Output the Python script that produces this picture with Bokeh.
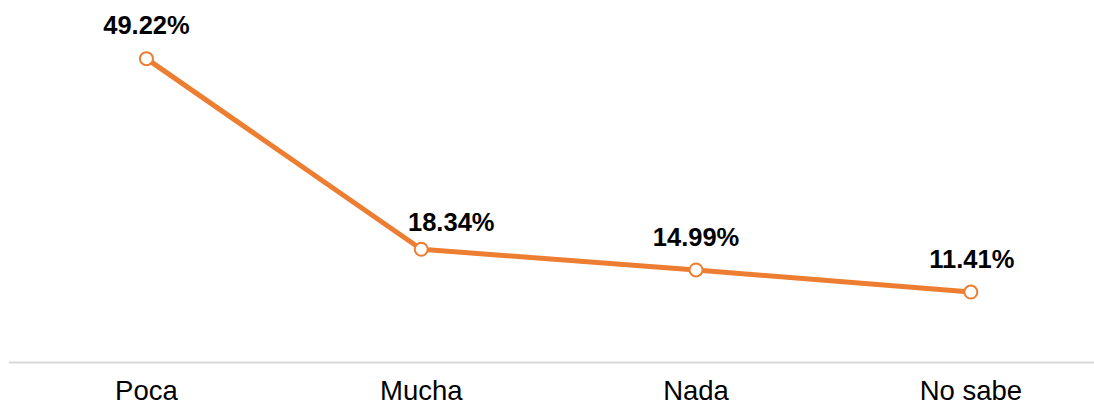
from bokeh.plotting import figure
from bokeh.models import ColumnDataSource, Range1d, FixedTicker, Span
from bokeh.core.properties import value
from bokeh.embed import file_html
from bokeh.resources import INLINE

categories = ["Poca", "Mucha", "Nada", "No sabe"]
percentages = [49.22, 18.34, 14.99, 11.41]

# label placement (style, pixels)
label_dx = [0, 30, 0, 1]
label_dy = [-33.5, -27, -32.5, -33.5]

xs = list(range(len(categories)))
labels = [f"{v:.2f}%" for v in percentages]

src = ColumnDataSource(dict(x=xs, y=percentages, label=labels,
                            dx=label_dx, dy=label_dy))

p = figure(width=1094, height=408, output_backend="svg", toolbar_location=None,
           x_range=Range1d(-0.502, 3.450), y_range=Range1d(-0.975, 57.34),
           y_axis_location=None, min_border=0, min_border_left=8,
           min_border_right=0, min_border_top=8, min_border_bottom=0)
p.outline_line_color = None
p.xgrid.visible = False
p.ygrid.visible = False
p.background_fill_color = "white"
p.border_fill_color = "white"

p.add_layout(Span(location=0, dimension="width", line_color="#d9d9d9",
                  line_width=2))

color = "#ED7D31"
p.line("x", "y", source=src, line_color=color, line_width=5)
p.scatter("x", "y", source=src, size=13, fill_color="white",
          line_color=color, line_width=2)
p.text("x", "y", text="label", source=src, x_offset="dx", y_offset="dy",
       text_align="center", text_baseline="middle",
       text_font=value("Liberation Sans"), text_font_style="bold",
       text_font_size="25.5px", text_color="#000000")

ax = p.xaxis[0]
ax.ticker = FixedTicker(ticks=xs)
ax.major_label_overrides = {i: c for i, c in zip(xs, categories)}
ax.major_tick_line_color = None
ax.minor_tick_line_color = None
ax.axis_line_color = None
ax.major_label_text_font = "Liberation Sans"
ax.major_label_text_font_size = "27.5px"
ax.major_label_text_color = "#000000"
ax.major_label_standoff = 0

open("out.html", "w").write(file_html(p, INLINE))
